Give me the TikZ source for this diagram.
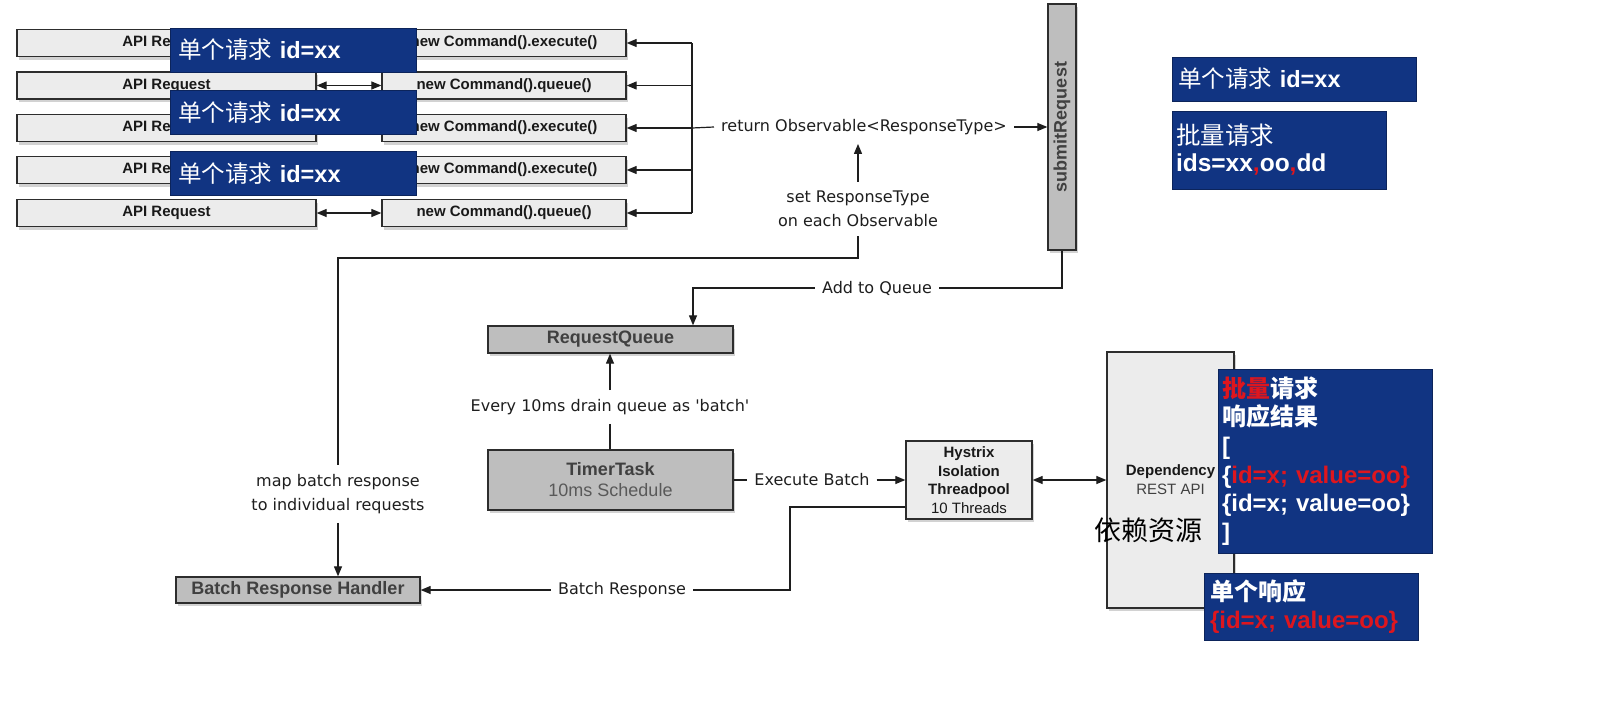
\documentclass[tikz,border=0pt]{standalone}
\usepackage{fontspec}
\setmainfont{Liberation Sans}
\newfontfamily\cjk{Noto Sans CJK SC}
\newfontfamily\lblfont{DejaVu Sans}
\usetikzlibrary{arrows.meta,shadows}
\definecolor{navy}{RGB}{17,52,130}
\definecolor{hred}{RGB}{222,22,30}
\definecolor{lbox}{RGB}{236,236,236}
\definecolor{dbox}{RGB}{190,190,190}
\definecolor{edge}{RGB}{45,45,45}
\definecolor{ink}{RGB}{30,30,30}
\begin{document}%
\begin{tikzpicture}[x=1pt,y=-1pt,
  shad/.style={drop shadow={shadow xshift=1.5pt,shadow yshift=-3pt,opacity=0.35}},
  lightbox/.style={shad,draw=edge,line width=1.3pt,fill=lbox,inner sep=0pt,text=black!90,
    font=\bfseries\fontsize{15}{18}\selectfont},
  darkbox/.style={shad,draw=edge,line width=1.3pt,fill=dbox,inner sep=0pt,text=black!75,
    font=\bfseries\fontsize{18}{22}\selectfont},
  lbl/.style={font=\lblfont\fontsize{16}{24}\selectfont,text=ink,inner xsep=7pt,inner ysep=9pt,align=center},
  conn/.style={draw=ink,line width=1.2pt},
  arr/.style={conn,-{Triangle[length=10pt,width=8pt]}},
  darr/.style={conn,{Triangle[length=10pt,width=8pt]}-{Triangle[length=10pt,width=8pt]}},
  bluebox/.style={fill=navy,draw=navy!70!black,line width=0.6pt,text=white,inner ysep=0pt,align=left},
]
\useasboundingbox (0,0) rectangle (1600,704);
\fill[white] (0,0) rectangle (1600,704);

% API request boxes
\foreach \i/\yy in {1/43,2/85.5,3/128,4/170,5/213}{
  \node[lightbox,minimum width=299pt,minimum height=27pt] (a\i) at (166.5,\yy) {API Request};
}
% command boxes
\node[lightbox,minimum width=244pt,minimum height=27pt] (c1) at (504,43) {new Command().execute()};
\node[lightbox,minimum width=244pt,minimum height=27pt] (c2) at (504,85.5) {new Command().queue()};
\node[lightbox,minimum width=244pt,minimum height=27pt] (c3) at (504,128) {new Command().execute()};
\node[lightbox,minimum width=244pt,minimum height=27pt] (c4) at (504,170) {new Command().execute()};
\node[lightbox,minimum width=244pt,minimum height=27pt] (c5) at (504,213) {new Command().queue()};

\draw[darr] (a2.east) -- (c2.west);
\draw[darr] (a5.east) -- (c5.west);

% bracket
\coordinate (br) at (692,0);
\draw[conn] (br |- c1.east) -- (br |- c5.east);
\foreach \i in {1,...,5}{ \draw[arr] (br |- c\i.east) -- (c\i.east); }

% submitRequest
\node[darkbox,minimum width=28pt,minimum height=246pt] (sub) at (1062,127) {};
\node[rotate=90,font=\bfseries\fontsize{18}{22}\selectfont,text=black!75] (subtxt) at (sub.center) {submitRequest};

\node[lbl] (ret) at (864,127) {return Observable<ResponseType>};
\draw[conn] (br |- c3.east) -- (ret.west);
\draw[arr] (ret.east) -- (ret.east -| sub.west);

\node[lbl] (set) at (858,209) {set ResponseType\\on each Observable};
\draw[arr] (set.north) -- (set.north |- ret.south);

% map batch response
\node[lbl] (map) at (338,494) {map batch response\\to individual requests};
\coordinate (mapturn) at (858,258);
\draw[conn] (set.south) -- (mapturn) -| (map.north);

% RequestQueue
\node[darkbox,minimum width=245pt,minimum height=27pt] (rq) at (610.5,339.5) {RequestQueue};
\node[lbl] (add) at (877,288) {Add to Queue};
\coordinate (qx) at (693,0);
\draw[conn] (sub.south) |- (add.east);
\draw[arr] (add.west) -| (qx |- rq.north);

% TimerTask
\node[darkbox,minimum width=245pt,minimum height=60pt,align=center] (timer) at (610.5,480)
  {TimerTask\\[-1pt]{\mdseries\color{black!65}10ms Schedule}};
\node[lbl] (drain) at (610,407) {Every 10ms drain queue as \textquotesingle batch\textquotesingle};
\draw[arr] (drain.north) -- (drain.north |- rq.south);
\draw[conn] (drain.south) -- (drain.south |- timer.north);

% Hystrix
\node[lightbox,minimum width=126pt,minimum height=78pt,align=center,font=\bfseries\fontsize{15}{18.7}\selectfont] (hys) at (969,480)
  {Hystrix\\Isolation\\Threadpool\\{\mdseries 10 Threads}};
\node[lbl] (exe) at (812,480) {Execute Batch};
\draw[conn] (timer.east) -- (exe.west);
\draw[arr] (exe.east) -- (exe.east -| hys.west);

% Dependency
\node[lightbox,minimum width=127pt,minimum height=256pt,align=center,font=\bfseries\fontsize{15}{19}\selectfont] (dep) at (1170.5,480)
  {Dependency\\{\mdseries\color{black!75}REST API}};
\draw[darr] (hys.east) -- (hys.east -| dep.west);
\node[font=\cjk\fontsize{27}{30}\selectfont,text=black,inner sep=0pt] (depcn) at (1148,530) {依赖资源};

% Batch Response Handler
\node[darkbox,minimum width=244pt,minimum height=26pt] (brh) at (298,590) {Batch Response Handler};
\draw[arr] (map.south) -- (map.south |- brh.north);
\node[lbl] (brl) at (622,590) {Batch Response};
\coordinate (bt) at (790,590);
\draw[conn] ([yshift=-27pt]hys.west) -| (bt) -- (brl.east);
\draw[arr] (brl.west) -- (brh.east);

% blue overlay boxes (left)
\foreach \i/\yy in {1/50,2/112.5,3/173.5}{
  \node[bluebox,inner xsep=8pt,text width=230pt,minimum height=44pt,font=\fontsize{23.5}{26}\selectfont] (b\i) at (293,\yy)
    {{\cjk 单个请求} \textbf{id=xx}};
}
% blue boxes (right)
\node[bluebox,inner xsep=6pt,text width=232pt,minimum height=44pt,font=\fontsize{23.5}{26}\selectfont] (r1) at (1294,79)
  {{\cjk 单个请求} \textbf{id=xx}};
\node[bluebox,inner xsep=4pt,text width=206pt,minimum height=78pt,font=\fontsize{24.5}{27}\selectfont] (r2) at (1279,150)
  {{\cjk 批量请求}\\\textbf{ids=xx{\color{hred},}oo{\color{hred},}dd}};
\node[bluebox,inner xsep=4pt,text width=206pt,minimum height=184pt,font=\fontsize{24}{28.6}\selectfont] (resp) at (1325,461)
  {{\cjk\bfseries{\color{hred}批量}请求}\\
   {\cjk\bfseries 响应结果}\\
   \textbf{[}\\
   \textbf{\{{\color{hred}id=x; value=oo\}}}\\
   \textbf{\{id=x; value=oo\}}\\
   \textbf{]}};
\node[bluebox,inner xsep=6pt,text width=202pt,minimum height=67pt,font=\fontsize{24}{28}\selectfont] (single) at (1311,606.5)
  {{\cjk\bfseries 单个响应}\\
   \textbf{\color{hred}\{id=x; value=oo\}}};
\end{tikzpicture}%
\end{document}
